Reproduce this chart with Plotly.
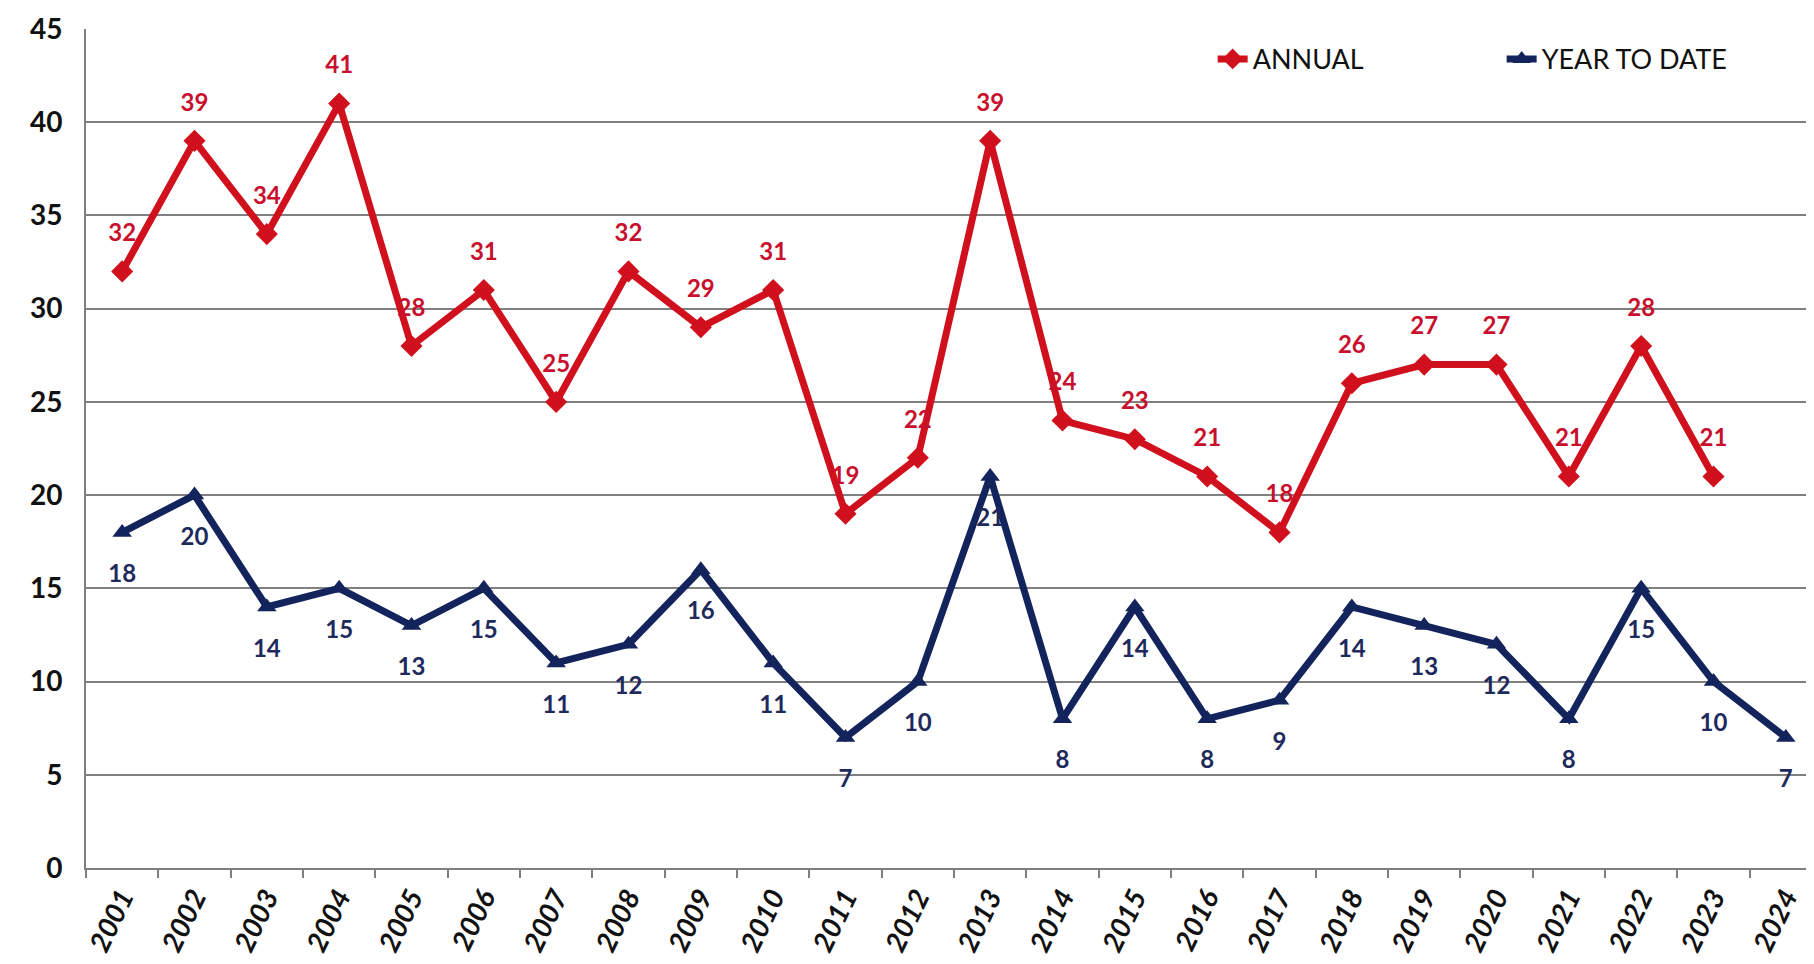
import plotly.graph_objects as go

years = [str(y) for y in range(2001, 2025)]
annual = [32, 39, 34, 41, 28, 31, 25, 32, 29, 31, 19, 22, 39, 24, 23, 21, 18, 26, 27, 27, 21, 28, 21, None]
ytd = [18, 20, 14, 15, 13, 15, 11, 12, 16, 11, 7, 10, 21, 8, 14, 8, 9, 14, 13, 12, 8, 15, 10, 7]
y_ticks = [0, 5, 10, 15, 20, 25, 30, 35, 40, 45]

RED = "#D0101C"
NAVY = "#13245C"
FONT = "Lato"

fig = go.Figure()
fig.add_trace(go.Scatter(
    x=years, y=annual, name="ANNUAL", mode="lines+markers",
    line=dict(color=RED, width=7),
    marker=dict(symbol="diamond", size=17, color=RED),
))
fig.add_trace(go.Scatter(
    x=years, y=ytd, name="YEAR TO DATE", mode="lines+markers",
    line=dict(color=NAVY, width=7),
    marker=dict(symbol="triangle-up", size=17, color=NAVY),
))

# data labels (invisible spacer markers push the text away from the points)
fig.add_trace(go.Scatter(
    x=years, y=annual, mode="markers+text", showlegend=False, hoverinfo="skip",
    text=[str(v) if v is not None else "" for v in annual], textposition="top center",
    textfont=dict(family=FONT, size=24, color="#C8102E", weight="bold"),
    marker=dict(size=37, color="rgba(0,0,0,0)"),
))
fig.add_trace(go.Scatter(
    x=years, y=ytd, mode="markers+text", showlegend=False, hoverinfo="skip",
    text=[str(v) for v in ytd], textposition="bottom center",
    textfont=dict(family=FONT, size=24, color="#1E2A5C", weight="bold"),
    marker=dict(size=49, color="rgba(0,0,0,0)"),
))

fig.update_layout(
    width=1814, height=964,
    margin=dict(l=78, r=0, t=21, b=104),
    paper_bgcolor="white", plot_bgcolor="white",
    font=dict(family=FONT, color="#111111"),
    showlegend=True,
    legend=dict(
        orientation="h", x=0.649, y=0.993, xanchor="left", yanchor="top",
        font=dict(family=FONT, size=27, color="#111111"),
        entrywidth=244, entrywidthmode="pixels",
        bgcolor="rgba(0,0,0,0)",
    ),
    xaxis=dict(
        type="category", range=[-0.5, 23.5],
        showgrid=False, showline=True, linecolor="#7F7F7F", linewidth=2,
        ticks="outside", tickson="boundaries", ticklen=8, tickcolor="#7F7F7F", tickwidth=2,
        tickangle=-64,
        tickfont=dict(family=FONT, size=28, color="#111111", weight="bold", style="italic"),
    ),
    yaxis=dict(
        range=[0, 45], tickvals=y_ticks,
        showgrid=True, gridcolor="#808080", gridwidth=2,
        showline=True, linecolor="#7F7F7F", linewidth=2,
        zeroline=False, ticks="", ticklabelstandoff=16,
        tickfont=dict(family=FONT, size=28, color="#111111", weight="bold"),
    ),
)

fig.write_html("out.html")
